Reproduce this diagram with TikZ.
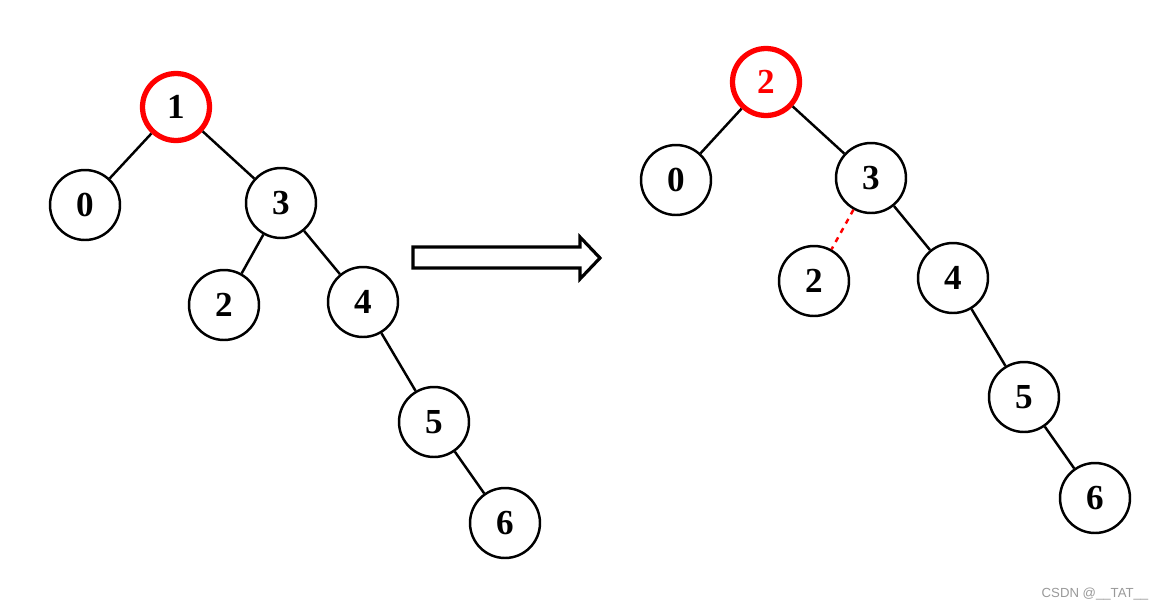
\documentclass[tikz,border=0pt]{standalone}
\usepackage{fontspec}
\setmainfont{Liberation Serif}
\newfontfamily\marksans{Liberation Sans}
\tikzset{
    vert/.style={draw, circle, line width=1.4pt, minimum size=1.4cm, inner sep=0pt, font=\fontsize{20}{20}\selectfont\bfseries},
    hot/.style={vert, draw=red, line width=3pt, minimum size=1.34cm},
}
\begin{document}
\begin{tikzpicture}[x=0.02cm, y=-0.02cm]
        \useasboundingbox (0,0) rectangle (1167,609);

        % before
        \node[hot] (1) at (176,107) {$\mathbf{1}$};
        \node[vert] (0) at (85,205) {$\mathbf{0}$};
        \node[vert] (3) at (281,203) {$\mathbf{3}$};
        \node[vert] (2) at (224,305) {$\mathbf{2}$};
        \node[vert] (4) at (363,302) {$\mathbf{4}$};
        \node[vert] (5) at (434,422) {$\mathbf{5}$};
        \node[vert] (6) at (505,523) {$\mathbf{6}$};

        \path[draw,line width=1.4pt,-] (1) -- (0);
        \path[draw,line width=1.4pt,-] (1) -- (3);
        \path[draw,line width=1.4pt,-] (3) -- (2);
        \path[draw,line width=1.4pt,-] (3) -- (4);
        \path[draw,line width=1.4pt,-] (4) -- (5);
        \path[draw,line width=1.4pt,-] (5) -- (6);

        % after
        \node[hot, text=red] (r2) at (766,82) {$\mathbf{2}$};
        \node[vert] (r0) at (676,180) {$\mathbf{0}$};
        \node[vert] (r3) at (871,178) {$\mathbf{3}$};
        \node[vert] (r2b) at (814,281) {$\mathbf{2}$};
        \node[vert] (r4) at (953,278) {$\mathbf{4}$};
        \node[vert] (r5) at (1024,397) {$\mathbf{5}$};
        \node[vert] (r6) at (1095,498) {$\mathbf{6}$};

        \path[draw,line width=1.4pt,-] (r2) -- (r0);
        \path[draw,line width=1.4pt,-] (r2) -- (r3);
        \path[draw,line width=1.4pt,-,red,dashed] (r3) -- (r2b);
        \path[draw,line width=1.4pt,-] (r3) -- (r4);
        \path[draw,line width=1.4pt,-] (r4) -- (r5);
        \path[draw,line width=1.4pt,-] (r5) -- (r6);

        % block arrow
        \path[draw,line width=1.8pt,fill=white] (413,247) -- (580,247) -- (580,237) -- (600,258)
            -- (580,279) -- (580,268) -- (413,268) -- cycle;

        \node[text=gray!80, font=\marksans\fontsize{7.5}{8}\selectfont] (mark) at (1095,594) {CSDN @\_\_TAT\_\_};
    \end{tikzpicture}
\end{document}
